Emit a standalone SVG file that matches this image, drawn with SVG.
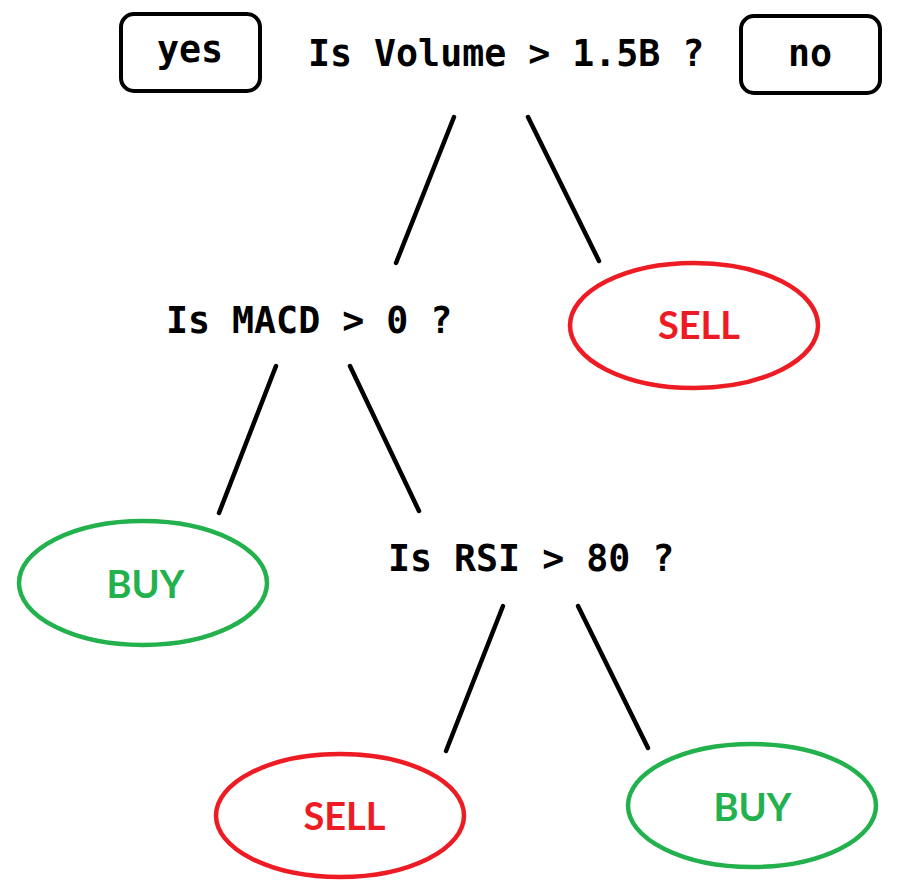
<svg xmlns="http://www.w3.org/2000/svg" width="898" height="890" viewBox="0 0 898 890">
<style>
.q{font-family:"DejaVu Sans Mono","Liberation Mono",monospace;font-weight:bold;font-size:36.6px;fill:#000}
.box{fill:none;stroke:#000;stroke-width:4}
.leaf{font-family:Lato,"Open Sans","Liberation Sans",sans-serif;font-weight:bold;font-size:38px;text-anchor:middle}
.sell{fill:none;stroke:#ED1C24;stroke-width:4.5}
.buy{fill:none;stroke:#22B14C;stroke-width:4.5}
.edge{stroke:#000;stroke-width:4.5;stroke-linecap:round}
</style>
<rect width="898" height="890" fill="#fff"/>
<g id="yes"><rect class="box" x="121" y="14" width="139" height="77" rx="13"/><text class="q" x="190" y="62" text-anchor="middle">yes</text></g>
<g id="no"><rect class="box" x="741" y="16" width="139" height="77" rx="13"/><text class="q" x="810" y="66" text-anchor="middle">no</text></g>
<g id="q1"><text class="q" x="308" y="66">Is Volume &gt; 1.5B ?</text></g>
<g id="q2"><text class="q" x="166" y="333">Is MACD &gt; 0 ?</text></g>
<g id="q3"><text class="q" x="388" y="571">Is RSI &gt; 80 ?</text></g>
<g id="sell1"><ellipse class="sell" cx="694" cy="325.5" rx="124" ry="62.5"/><text class="leaf" x="699" y="339" fill="#ED1C24">SELL</text></g>
<g id="buy1"><ellipse class="buy" cx="143" cy="583" rx="124" ry="62"/><text class="leaf" x="145.5" y="598" fill="#22B14C">BUY</text></g>
<g id="sell2"><ellipse class="sell" cx="340" cy="815.5" rx="124" ry="61.5"/><text class="leaf" x="344.5" y="830" fill="#ED1C24">SELL</text></g>
<g id="buy2"><ellipse class="buy" cx="752" cy="805.5" rx="124" ry="61.5"/><text class="leaf" x="752.5" y="821" fill="#22B14C">BUY</text></g>
<g id="connectors">
<line class="edge" x1="454" y1="117" x2="396" y2="263"/>
<line class="edge" x1="528" y1="117" x2="599" y2="261"/>
<line class="edge" x1="276" y1="366" x2="219" y2="513"/>
<line class="edge" x1="350" y1="366" x2="419" y2="511"/>
<line class="edge" x1="503" y1="606" x2="446" y2="751"/>
<line class="edge" x1="578" y1="606" x2="648" y2="748"/>
</g>
</svg>
